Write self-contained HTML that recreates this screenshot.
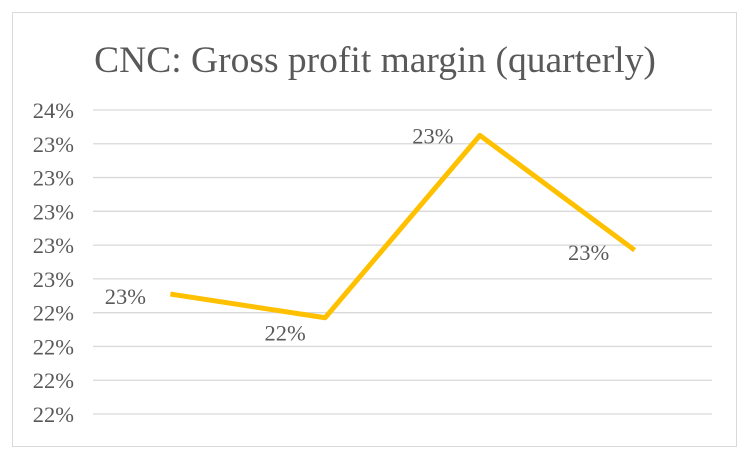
<!DOCTYPE html>
<html><head><meta charset="utf-8"><style>
html,body{margin:0;padding:0;background:#fff;width:748px;height:454px;overflow:hidden}
svg{display:block}
text{font-family:"Liberation Serif",serif;fill:#595959}
</style></head><body>
<svg id="chart" width="748" height="454">
<rect x="12.5" y="12.5" width="724" height="434" fill="#fff" stroke="#d9d9d9"/>
<text x="375" y="72" text-anchor="middle" font-size="37.5">CNC: Gross profit margin (quarterly)</text>
<g id="grid"></g><g id="series"></g>
</svg>
<script>
const categories = ["Q1","Q2","Q3","Q4"];
const values = [22.51, 22.37, 23.45, 22.77];
const ticks = [21.8,22.0,22.2,22.4,22.6,22.8,23.0,23.2,23.4,23.6];
const ns="http://www.w3.org/2000/svg";
const x0=93,x1=712,yTop=110,yBot=414,vMin=21.8,vMax=23.6;
const y=v=>yBot-(v-vMin)/(vMax-vMin)*(yBot-yTop);
const bw=(x1-x0)/categories.length;
const x=i=>x0+bw*(i+0.5);
const grid=document.getElementById('grid'),ser=document.getElementById('series');
ticks.forEach(t=>{
  const l=document.createElementNS(ns,'line');
  l.setAttribute('x1',x0);l.setAttribute('x2',x1);l.setAttribute('y1',y(t));l.setAttribute('y2',y(t));
  l.setAttribute('stroke','#d9d9d9');l.setAttribute('stroke-width','1.3');
  
  
  grid.appendChild(l);
  const tx=document.createElementNS(ns,'text');
  tx.setAttribute('x',74);tx.setAttribute('y',y(t)+8);tx.setAttribute('text-anchor','end');tx.setAttribute('font-size','22.5');
  tx.textContent=Math.round(t)+'%';
  
  
  grid.appendChild(tx);
});
const p=document.createElementNS(ns,'polyline');
p.setAttribute('points',values.map((v,i)=>x(i)+','+y(v)).join(' '));
p.setAttribute('fill','none');p.setAttribute('stroke','#ffc000');p.setAttribute('stroke-width','5');p.setAttribute('stroke-linejoin','round');


ser.appendChild(p);
const off=[[-45,10],[-40,23],[-47,8],[-46,10]];
values.forEach((v,i)=>{
  const tx=document.createElementNS(ns,'text');
  tx.setAttribute('x',x(i)+off[i][0]);tx.setAttribute('y',y(v)+off[i][1]);tx.setAttribute('text-anchor','middle');tx.setAttribute('font-size','22.5');
  tx.textContent=Math.round(v)+'%';
  
  
  ser.appendChild(tx);
});
</script>
</body></html>
